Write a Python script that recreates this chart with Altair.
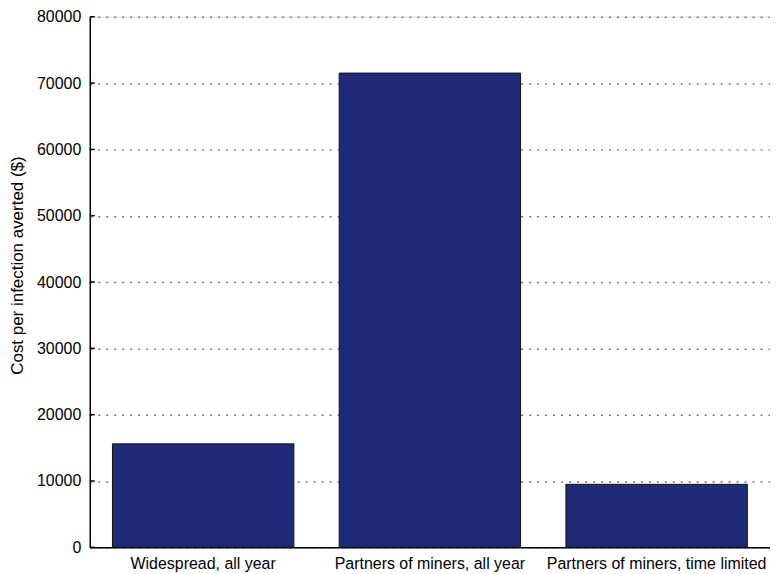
import altair as alt
import pandas as pd

categories = ["Widespread, all year", "Partners of miners, all year", "Partners of miners, time limited"]
costs = [15600, 71500, 9500]
y_ticks = [0, 10000, 20000, 30000, 40000, 50000, 60000, 70000, 80000]

df = pd.DataFrame({"scenario": categories, "cost": costs})
ticks_df = pd.DataFrame({"v": y_ticks})

FONT = "Liberation Sans"

x_enc = alt.X("scenario:N", sort=categories,
              scale=alt.Scale(paddingInner=0.2, paddingOuter=0.1),
              axis=alt.Axis(title=None, labelAngle=0, labelFontSize=16, labelFont=FONT,
                            labelColor="black", ticks=False, labelPadding=8, labelLimit=0,
                            domainColor="black", domainWidth=1.5, grid=False))
y_scale = alt.Scale(domain=[0, 80000], nice=False)

bars = alt.Chart(df).mark_bar(color="#1f2a78", stroke="#111111", strokeWidth=1).encode(
    x=x_enc,
    y=alt.Y("cost:Q", scale=y_scale,
            axis=alt.Axis(title="Cost per infection averted ($)", values=y_ticks, format="d",
                          labelFontSize=16, labelFont=FONT, labelColor="black",
                          titleFont=FONT, titleFontSize=17, titleFontWeight="normal",
                          titleColor="black", titleX=-80, titleY=249, titleBaseline="top",
                          titleLimit=0,
                          tickSize=0, labelPadding=9, domainColor="black", domainWidth=1.5,
                          grid=True, gridColor="#777777", gridDash=[2, 6], gridWidth=1.5)),
)

inner_ticks = alt.Chart(ticks_df).mark_rule(color="black", strokeWidth=1.5).encode(
    y=alt.Y("v:Q", scale=y_scale),
    x=alt.value(0),
    x2=alt.value(5),
)

chart = alt.layer(bars, inner_ticks).properties(
    width=682, height=532,
    autosize=alt.AutoSizeParams(type="none"),
    padding={"left": 82, "top": 8, "right": 0, "bottom": 30},
).configure_view(stroke=None).configure(background="white")

chart.save("out.html", embed_options={"renderer": "svg", "actions": False})
